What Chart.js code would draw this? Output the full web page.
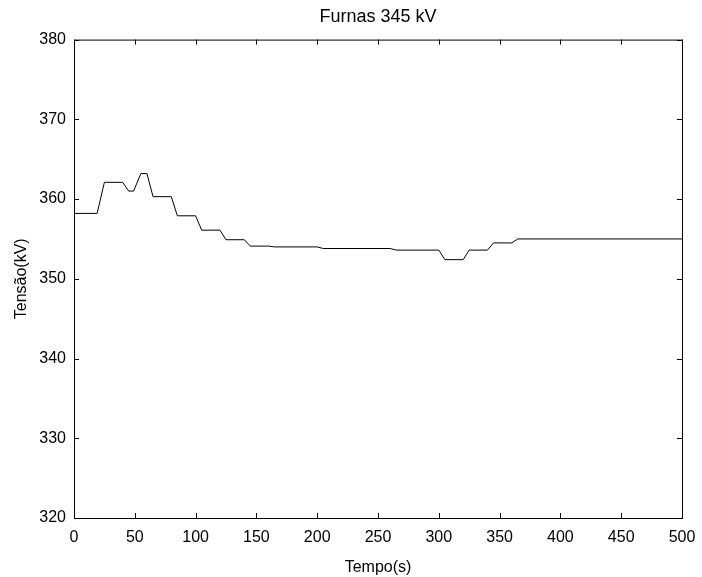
<!DOCTYPE html>
<html>
<head>
<meta charset="utf-8">
<script src="https://cdn.jsdelivr.net/npm/chart.js@4.4.1/dist/chart.umd.min.js"></script>
<style>
  html, body { margin: 0; padding: 0; background: #fff; }
  #wrap { width: 702px; height: 577px; position: relative; }
</style>
</head>
<body>
<div id="wrap"><canvas id="myChart"></canvas></div>
<script>
// time (s) and voltage (kV)
const times = [0, 19, 25, 40, 45, 49, 55, 60, 65, 80, 85, 100, 105, 120, 125, 140, 145, 160, 165, 200, 205, 260, 265, 300, 305, 320, 325, 340, 345, 360, 365, 500];
const tensao = [358.2, 358.2, 362.1, 362.1, 361.0, 361.0, 363.2, 363.2, 360.3, 360.3, 357.9, 357.9, 356.1, 356.1, 354.9, 354.9, 354.1, 354.1, 354.0, 354.0, 353.8, 353.8, 353.6, 353.6, 352.4, 352.4, 353.6, 353.6, 354.5, 354.5, 355.0, 355.0];
const xTicks = [0, 50, 100, 150, 200, 250, 300, 350, 400, 450, 500];
const yTicks = [320, 330, 340, 350, 360, 370, 380];

const font = 'Arial, "Liberation Sans", sans-serif';

// MATLAB-style box with inward ticks on all four sides
const boxPlugin = {
  id: 'box',
  afterDraw(chart) {
    const { ctx, chartArea: a, scales } = chart;
    const len = 5;
    ctx.save();
    ctx.strokeStyle = '#000';
    ctx.lineWidth = 1;
    ctx.strokeRect(a.left + 0.5, a.top + 0.5, a.right - a.left, a.bottom - a.top);
    ctx.beginPath();
    xTicks.forEach((v) => {
      const x = Math.round(scales.x.getPixelForValue(v)) + 0.5;
      ctx.moveTo(x, a.bottom); ctx.lineTo(x, a.bottom - len);
      ctx.moveTo(x, a.top); ctx.lineTo(x, a.top + len);
    });
    yTicks.forEach((v) => {
      const y = Math.round(scales.y.getPixelForValue(v)) + 0.5;
      ctx.moveTo(a.left, y); ctx.lineTo(a.left + len, y);
      ctx.moveTo(a.right, y); ctx.lineTo(a.right - len, y);
    });
    ctx.stroke();
    ctx.restore();
  },
};

new Chart(document.getElementById('myChart'), {
  type: 'line',
  data: {
    datasets: [{
      data: times.map((t, i) => ({ x: t, y: tensao[i] })),
      borderColor: '#000',
      borderWidth: 1,
      pointRadius: 0,
      tension: 0,
      fill: false,
    }],
  },
  options: {
    responsive: true,
    maintainAspectRatio: false,
    animation: false,
    layout: { padding: { left: 0, right: 20, top: 0, bottom: 0 } },
    plugins: {
      legend: { display: false },
      tooltip: { enabled: false },
      title: {
        display: true,
        fullSize: false,
        text: 'Furnas 345 kV',
        color: '#000',
        font: { family: font, size: 18, weight: 'normal' },
        padding: { top: 6, bottom: 12 },
      },
    },
    scales: {
      x: {
        type: 'linear',
        min: 0,
        max: 500,
        afterBuildTicks: (s) => { s.ticks = xTicks.map((v) => ({ value: v })); },
        afterFit: (s) => { s.height = 59; s.paddingLeft = 0; s.paddingRight = 0; },
        grid: { display: false, drawTicks: false },
        border: { display: false },
        ticks: { color: '#000', font: { family: font, size: 16 }, padding: 10, maxRotation: 0 },
        title: {
          display: true,
          text: 'Tempo(s)',
          color: '#000',
          font: { family: font, size: 16 },
          padding: { top: 8, bottom: 0 },
        },
      },
      y: {
        min: 320,
        max: 380,
        afterBuildTicks: (s) => { s.ticks = yTicks.map((v) => ({ value: v })); },
        afterFit: (s) => { s.width = 74; },
        grid: { display: false, drawTicks: false },
        border: { display: false },
        ticks: { color: '#000', font: { family: font, size: 16 }, padding: 8 },
        title: {
          display: true,
          text: 'Tensão(kV)',
          color: '#000',
          font: { family: font, size: 16 },
          padding: { top: 12, bottom: 0 },
        },
      },
    },
  },
  plugins: [boxPlugin],
});
</script>
</body>
</html>
